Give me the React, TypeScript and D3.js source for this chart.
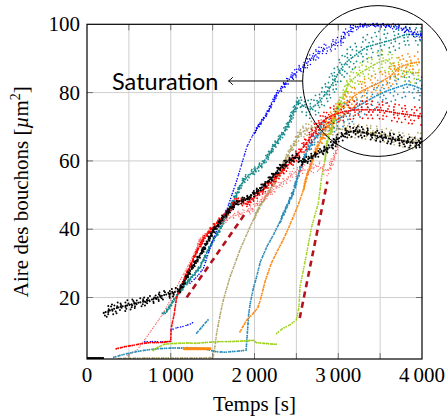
import React from 'react';
import * as d3 from 'd3';

type P = [number, number, number];

const xTicks = [0, 1000, 2000, 3000, 4000];
const xTickLabels = ['0', '1\u2009000', '2\u2009000', '3\u2009000', '4\u2009000'];
const xMinorTicks = [500, 1500, 2500, 3500];
const yTicks = [20, 40, 60, 80, 100];
const yTickLabels = ['20', '40', '60', '80', '100'];
const xLabel = 'Temps [s]';
const annotationText = 'Saturation';

const B: P = [NaN, NaN, 0];

const blackBase: P[] = [[0, 2.3, 0], [200, 2.3, 0]];
const black: P[] = [[200, 15.5, 1.5], [300, 16.5, 1.5], [400, 17.3, 1.5], [500, 17.8, 1.5], [600, 18.4, 1.2], [700, 18.9, 1.2], [800, 19.6, 1.2], [900, 20.6, 1.2], [1000, 21.2, 1.2], [1100, 22, 1], [1150, 24, 0.8], [1200, 26.5, 0.8], [1300, 30.5, 0.8], [1400, 34.5, 0.8], [1500, 39.2, 0.8], [1600, 42.5, 0.8], [1700, 45.5, 0.8], [1800, 48, 0.8], [1900, 48.8, 0.8], [2000, 50.5, 0.8], [2100, 52.5, 1], [2200, 55, 1], [2300, 57.8, 1], [2400, 60, 1], [2500, 61.2, 1], [2580, 59.5, 1], [2700, 61.5, 1], [2800, 62.7, 1], [2900, 64, 1.2], [3000, 66.5, 1.5], [3100, 68.3, 1.5], [3200, 68.8, 1.5], [3300, 68.3, 1.5], [3400, 67.7, 1.5], [3500, 67.1, 1.5], [3600, 66.6, 1.5], [3700, 66.2, 1.5], [3800, 65.7, 1.5], [3900, 65.2, 1.5], [4000, 65.6, 1.5]];
const red: P[] = [[350, 5, 0.4], [450, 5.6, 0.4], [550, 6, 0.4], [650, 6.5, 0.4], [750, 6.8, 0.3], [850, 6.8, 0.3], [950, 7, 0.3], [1000, 7.2, 0.3], [1005, 11, 0.3], [1040, 15, 0.3], [1070, 20, 0.3], [1150, 25, 0.5], [1230, 29, 0.5], [1300, 33, 0.5], [1390, 37, 0.8], [1500, 40.5, 0.8], [1600, 43, 0.8], [1670, 44.8, 1], [1790, 48.6, 1], [1850, 48, 1], [1910, 47.3, 1], [2000, 49.5, 1], [2070, 50.8, 1], [2170, 53, 1.2], [2270, 55.5, 1.2], [2370, 58, 1.2], [2460, 60.3, 1.5], [2550, 63, 1.5], [2620, 65.2, 1.8], [2700, 68, 2], [2780, 70.8, 2.2], [2860, 72.5, 2.5], [2940, 73.5, 2.5], [3050, 74.3, 2.5], [3180, 74.9, 2.5], [3300, 75, 2.5], [3500, 74.9, 2.5], [3700, 74, 2.5], [3850, 73.5, 2.5], [4000, 73, 2.5]];
const pink: P[] = [[480, 3, 0], [600, 4.7, 0], [700, 8, 0], [800, 11.5, 0], [900, 15, 0], [1000, 19.5, 0], [1100, 24.5, 0], [1200, 29, 0], [1300, 34, 0.5], [1350, 37, 0.5], [1470, 39.8, 0.5], [1600, 42, 0.8], [1750, 44, 0.8], [1950, 45.5, 1], [2100, 49, 1], [2300, 53, 1], [2500, 57, 1.5], [2650, 57.5, 1.5], [2750, 58.5, 1.5], [2880, 57, 1.5], [2950, 61, 1.5], [3000, 65, 1]];
const teal: P[] = [[900, 15.4, 0.5], [960, 16.2, 0.5], [1030, 19, 0.5], [1100, 21.5, 0.5], [1190, 24.2, 0.5], [1270, 26.5, 0.5], [1350, 29, 0.5], [1430, 33, 0.5], [1510, 37, 0.6], [1590, 40, 0.6], [1670, 44.5, 0.8], [1750, 48.6, 0.8], [1870, 54.4, 1], [1970, 56.5, 1], [2070, 58.5, 1], [2150, 61, 1], [2230, 64.2, 1], [2310, 67, 1], [2390, 70, 1.2], [2450, 73.5, 1.5], [2520, 77.5, 1.5], [2560, 76.5, 2], [2660, 75, 2.5], [2760, 77, 3], [2860, 80, 3], [2940, 83, 3.5], [3020, 86.5, 3.5], [3100, 89, 3.5], [3180, 90.5, 3.5], [3260, 92, 3.5], [3340, 93.4, 3.5], [3500, 94.5, 3.5], [3650, 95.5, 3.5], [3800, 97, 3], [4000, 97, 3]];
const blue: P[] = [[690, 7, 0.2], [800, 7.1, 0.2], [900, 7, 0.2], [990, 7.2, 0.2], B, [1000, 10.5, 0.3], [1080, 11.2, 0.3], [1160, 11.6, 0.3], [1230, 12.2, 0.3], [1290, 13, 0.3], B, [1230, 24.2, 0.3], [1310, 26, 0.3], [1390, 28.5, 0.3], [1470, 34.5, 0.3], [1550, 39.8, 0.3], [1670, 45.7, 0.3], [1790, 54.4, 0.3], [1910, 64.2, 0.4], [1990, 68, 0.5], [2070, 71, 0.5], [2150, 74, 0.6], [2265, 79.5, 0.8], [2380, 83, 1], [2480, 85.5, 1.2], [2583, 87.6, 1.5], [2680, 90, 1.5], [2782, 92, 1.5], [2900, 93.5, 1.5], [3021, 95, 1.5], [3100, 97.5, 1.5], [3180, 99, 1], [3300, 99.7, 0.5], [3500, 99.8, 0.5], [3700, 99.3, 0.8], [3850, 98, 1], [4000, 96.5, 1.2]];
const steel: P[] = [[320, 2.5, 0.2], [400, 3.1, 0.2], [500, 3.7, 0.2], [600, 4.2, 0.2], [700, 4.6, 0.2], [800, 4.9, 0.2], [900, 5.1, 0.2], [1000, 5.2, 0.2], [1100, 5.2, 0.2], [1200, 5.3, 0.2], [1300, 5.2, 0.2], [1400, 5, 0.2], [1480, 4.5, 0.2], [1550, 4.1, 0.2], [1650, 4, 0.2], [1750, 4.2, 0.2], [1850, 4.4, 0.2], [1900, 4.6, 0.2], [1910, 8, 0.2], [1930, 15, 0.3], [1950, 18.4, 0.3], [1986, 22.7, 0.3], [2030, 26.5, 0.3], [2070, 30.5, 0.4], [2150, 35, 0.4], [2225, 38.3, 0.4], [2300, 42, 0.5], [2384, 46.5, 0.6], [2464, 51, 0.8], [2543, 57.5, 1], [2620, 62.5, 1.2], [2703, 66, 1.5], [2780, 68, 2], [2862, 70, 2.5], [2950, 71.5, 3], [3050, 73, 3], [3100, 74, 3.5], [3200, 75.5, 3.5], [3340, 77.5, 3.5], [3450, 79, 3.5], [3580, 80.5, 3.5], [3700, 81.5, 3.5], [3820, 82.5, 3.5], [3900, 82, 3.5], [4000, 81, 3.5]];
const steelShort: P[] = [[1310, 9.6, 0.2], [1360, 11, 0.2], [1410, 12.5, 0.2], [1460, 13.8, 0.2]];
const orangeBar: P[] = [[1160, 5, 0], [1470, 5, 0]];
const orange: P[] = [[1827, 10, 0.3], [1910, 13.5, 0.3], [1990, 15.5, 0.3], [2040, 17, 0.3], [2070, 19.3, 0.3], [2130, 25, 0.3], [2200, 30, 0.3], [2270, 33.5, 0.3], [2344, 37, 0.3], [2400, 40, 0.3], [2464, 43.7, 0.3], [2520, 47, 0.4], [2583, 51.5, 0.5], [2623, 55.4, 0.6], [2700, 61, 0.8], [2760, 64.5, 1.2], [2830, 68, 2], [2900, 71.5, 2.5], [2980, 74, 3], [3061, 76, 3], [3180, 78.8, 3], [3280, 80.5, 3], [3380, 81.7, 3], [3500, 83, 3], [3618, 84.7, 3], [3737, 87.6, 3], [3850, 88.5, 3], [3976, 89, 3]];
const lime: P[] = [[790, 4.5, 0.2], [850, 5.5, 0.2], [920, 6.3, 0.2], [1000, 6.5, 0.2], [1100, 6.6, 0.2], [1200, 6.7, 0.2], [1300, 6.6, 0.2], [1400, 6.8, 0.2], [1500, 7, 0.2], [1600, 7.1, 0.2], [1700, 7.1, 0.2], [1800, 7.2, 0.2], [1900, 7.3, 0.2], [1986, 7.5, 0.2], [2020, 6.8, 0.2], [2106, 6.6, 0.2], [2200, 6.4, 0.2], [2265, 6.3, 0.2]];
const limeRise: P[] = [[2265, 9.5, 0.2], [2340, 11, 0.3], [2424, 12, 0.3], [2500, 13.5, 0.3], [2530, 17, 0.3], [2543, 23, 0.3], [2583, 28, 0.3], [2623, 33, 0.3], [2683, 40.8, 0.3], [2762, 47.6, 0.3], [2802, 55.4, 0.4], [2842, 60.3, 0.5], [2862, 65, 0.8], [2901, 68, 1.2], [2981, 74.9, 1.5], [3061, 78.8, 2], [3130, 83, 2.5], [3259, 85.7, 3], [3350, 87, 3], [3459, 88.6, 3], [3578, 89.6, 3], [3650, 88, 3], [3737, 86.6, 3], [3850, 86, 3], [3976, 85.7, 3]];
const khakiBase: P[] = [[380, 2.2, 0], [700, 2.3, 0], [1000, 2.3, 0], [1300, 2.3, 0], [1500, 2.4, 0]];
const khaki: P[] = [[1508, 2.7, 0.2], [1530, 6, 0.2], [1548, 9.6, 0.2], [1590, 15, 0.3], [1628, 19.3, 0.3], [1707, 26, 0.3], [1760, 29.5, 0.3], [1827, 34, 0.4], [1907, 38.5, 0.4], [1990, 43, 0.5], [2066, 46.8, 0.5], [2185, 51.5, 0.6], [2305, 56.4, 0.8], [2344, 59, 1], [2450, 64, 1.2], [2543, 68, 1.5], [2642, 69.5, 1.8], [2742, 70, 2], [2862, 70, 2], [2980, 69.5, 2], [3100, 69, 2], [3300, 68.5, 2], [3498, 68, 2], [3700, 66.5, 2], [3897, 65.5, 2], [4000, 67, 2]];
const dashedA: [number, number][] = [[1190, 20], [1900, 45]];
const dashedB: [number, number][] = [[2540, 14], [2870, 54]];

const W = 447;
const H = 416;
const x = d3.scaleLinear().domain([0, 4000]).range([87, 422]);
const y = d3.scaleLinear().domain([2, 100]).range([359, 24.3]);

const serif = "'Liberation Serif', 'Times New Roman', serif";

interface Series { data: P[]; color: string; w: number; gap: number; }

const series: Series[] = [
  { data: khakiBase, color: '#b3a66c', w: 1.8, gap: 2.2 },
  { data: khaki, color: '#b3a66c', w: 1.8, gap: 2 },
  { data: steel, color: '#2a8cb8', w: 1.9, gap: 2 },
  { data: steelShort, color: '#2a8cb8', w: 1.9, gap: 2 },
  { data: lime, color: '#9fd11c', w: 1.9, gap: 1.8 },
  { data: limeRise, color: '#9fd11c', w: 1.8, gap: 2.2 },
  { data: orangeBar, color: '#ff8a12', w: 2.8, gap: 0.8 },
  { data: orange, color: '#ff8a12', w: 1.9, gap: 2 },
  { data: teal, color: '#178c8c', w: 1.9, gap: 2.2 },
  { data: blue, color: '#0000ff', w: 1.6, gap: 2.4 },
  { data: pink, color: '#ff6464', w: 1.4, gap: 2.2 },
  { data: red, color: '#ff0000', w: 1.9, gap: 1.9 },
  { data: blackBase, color: '#000000', w: 2.2, gap: 1 },
  { data: black, color: '#000000', w: 2.1, gap: 2.1 },
];

// irregular dot spacing patterns for the scatter around each trace
const copies = [
  { k: -1, pattern: [4.5, 7, 3.5, 9, 5.5], off: 1.3 },
  { k: -0.6, pattern: [5.5, 3.5, 8, 4.5, 6.5], off: 4.2 },
  { k: -0.25, pattern: [7, 4.5, 9.5, 4], off: 2.1 },
  { k: 0.3, pattern: [6, 9, 4, 7.5], off: 0.6 },
  { k: 0.65, pattern: [5, 8, 3.5, 6.5], off: 5.1 },
  { k: 1, pattern: [8, 4, 6, 10, 5], off: 3.1 },
];

function dashes(pattern: number[]): string {
  return pattern.map((g) => `0 ${g}`).join(' ');
}

function pathFor(data: P[], k: number, needSpread: boolean): string {
  const gen = d3.line<P>()
    .defined((d) => !isNaN(d[1]) && (!needSpread || d[2] > 0.45))
    .x((d) => x(d[0]))
    .y((d) => y(d[1] + k * d[2]));
  return gen(data) || '';
}

const dashLine = d3.line<[number, number]>().x((d) => x(d[0])).y((d) => y(d[1]));

export default function App() {
  const left = x(0), right = x(4000), top = y(100), bottom = y(2);
  const cx = x(3475), cy = y(83.4);
  const r = x(3475 + 900) - x(3475);
  const arrowY = cy;
  const arrowTipX = x(1690);
  const arrowTailX = cx - r;
  return (
    <svg width={W} height={H} style={{ position: 'absolute', left: 0, top: 0, background: '#fff' }}>
      <defs>
        <clipPath id="plotclip"><rect x={left} y={top - 2} width={right - left} height={bottom - top + 2} /></clipPath>
      </defs>
      <g stroke="#cfcfcf" strokeWidth={1}>
        {[...xTicks, ...xMinorTicks].filter((t) => t > 0 && t < 4000).map((t) => (
          <line key={'gx' + t} x1={x(t)} x2={x(t)} y1={top} y2={bottom} />
        ))}
        {yTicks.filter((t) => t < 100).map((t) => (
          <line key={'gy' + t} x1={left} x2={right} y1={y(t)} y2={y(t)} />
        ))}
      </g>
      <g stroke="#707070" strokeWidth={1}>
        {[...xTicks, ...xMinorTicks].filter((t) => t > 0 && t < 4000).map((t) => (
          <g key={'tx' + t}>
            <line x1={x(t)} x2={x(t)} y1={bottom} y2={bottom - 6} />
            <line x1={x(t)} x2={x(t)} y1={top} y2={top + 6} />
          </g>
        ))}
        {yTicks.filter((t) => t < 100).map((t) => (
          <g key={'ty' + t}>
            <line x1={left} x2={left + 6} y1={y(t)} y2={y(t)} />
            <line x1={right} x2={right - 6} y1={y(t)} y2={y(t)} />
          </g>
        ))}
      </g>
      <g clipPath="url(#plotclip)" fill="none" strokeLinecap="round">
        {series.map((s, i) => (
          <g key={'s' + i} stroke={s.color}>
            {copies.map((c, j) => (
              <path key={j} d={pathFor(s.data, c.k, true)} strokeWidth={s.w * 0.95}
                strokeDasharray={dashes(c.pattern)} strokeDashoffset={c.off} />
            ))}
            <path d={pathFor(s.data, 0, false)} strokeWidth={s.w}
              strokeDasharray={dashes([s.gap, s.gap * 1.35, s.gap * 0.8, s.gap * 1.15])} />
          </g>
        ))}
        {[dashedA, dashedB].map((d, i) => (
          <path key={'d' + i} d={dashLine(d) || ''} stroke="#b5121b" strokeWidth={2.6}
            strokeDasharray="6 4.5" strokeLinecap="butt" />
        ))}
      </g>
      <rect x={left} y={top} width={right - left} height={bottom - top} fill="none" stroke="#000" strokeWidth={1.2} />
      <g fontFamily={serif} fontSize={21} fill="#000">
        {xTicks.map((t, i) => (
          <text key={'lx' + t} x={x(t)} y={bottom + 22.5} textAnchor="middle">{xTickLabels[i]}</text>
        ))}
        {yTicks.map((t, i) => (
          <text key={'ly' + t} x={left - 7} y={y(t) + 7} textAnchor="end">{yTickLabels[i]}</text>
        ))}
        <text x={(left + right) / 2} y={411} textAnchor="middle">{xLabel}</text>
        <text transform={`translate(27.5, ${(top + bottom) / 2}) rotate(-90)`} textAnchor="middle">
          Aire des bouchons [<tspan fontStyle="italic">µ</tspan>m<tspan dy={-8} fontSize={14}>2</tspan><tspan dy={8}>]</tspan>
        </text>
      </g>
      <circle cx={cx} cy={cy} r={r} fill="none" stroke="#000" strokeWidth={1} />
      <line x1={arrowTipX} x2={arrowTailX} y1={arrowY} y2={arrowY} stroke="#000" strokeWidth={1} />
      <path d={`M${arrowTipX + 4},${arrowY - 3.5} Q${arrowTipX + 1.5},${arrowY - 0.8} ${arrowTipX},${arrowY} Q${arrowTipX + 1.5},${arrowY + 0.8} ${arrowTipX + 4},${arrowY + 3.5}`}
        fill="none" stroke="#000" strokeWidth={1} strokeLinecap="round" />
      <text x={x(1570)} y={89.5} textAnchor="end" fontFamily="Lato, 'Open Sans', sans-serif" fontSize={23.5} fill="#000">{annotationText}</text>
    </svg>
  );
}
